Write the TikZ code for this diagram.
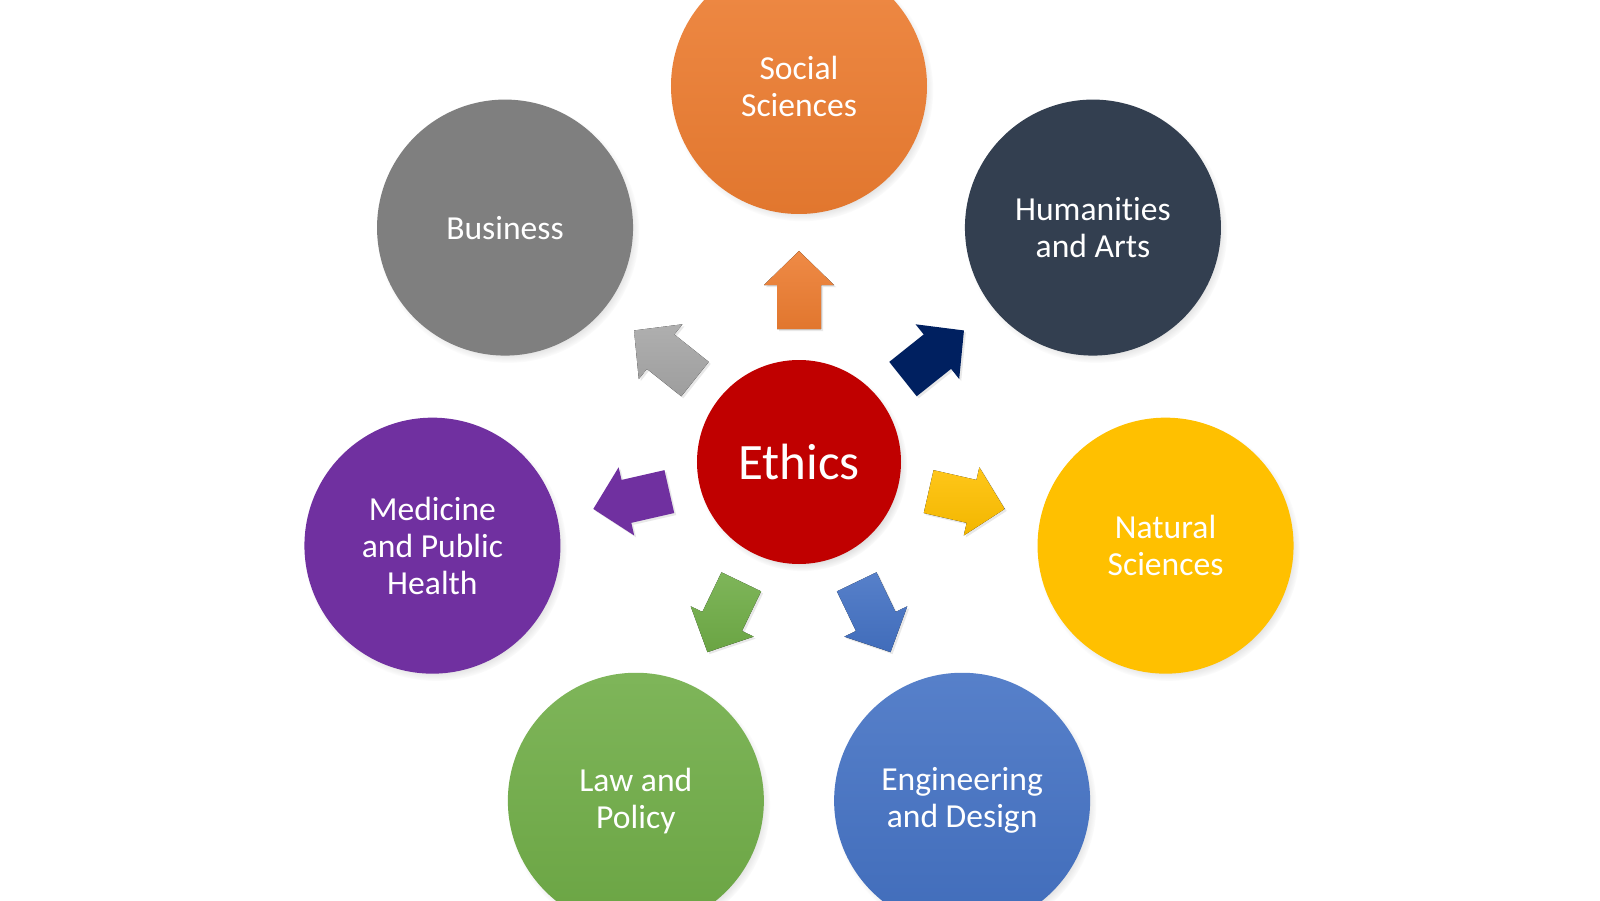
\documentclass[tikz,border=0pt]{standalone}
\usepackage{fontspec}
\setmainfont{Carlito}[Ligatures={NoCommon}]
\usetikzlibrary{shadows,fadings}
\definecolor{cOrange}{HTML}{ED7D31}
\definecolor{cGray}{HTML}{7F7F7F}
\definecolor{cSlate}{HTML}{333F50}
\definecolor{cGold}{HTML}{FFC000}
\definecolor{cBlue}{HTML}{4472C4}
\definecolor{cGreen}{HTML}{70AD47}
\definecolor{cPurple}{HTML}{7030A0}
\definecolor{cRed}{HTML}{C00000}
\definecolor{cNavy}{HTML}{002060}
\definecolor{cLtGray}{HTML}{A6A6A6}
\newcommand\blockarrow[2]{%
  \fill[arrowshape,#2,rotate=#1] (133,-22) -- (177,-22) -- (177,-35) -- (211,0)
     -- (177,35) -- (177,22) -- (133,22) -- cycle;}
\begin{document}
\begin{tikzpicture}[x=1pt,y=1pt,
  bubble/.style={circle, minimum size=256pt, inner sep=0pt, text=white,
    align=center, font=\fontsize{33.6}{37}\selectfont,
    circular drop shadow={shadow xshift=3pt, shadow yshift=-4pt, opacity=0.45, shadow scale=1.025}},
  arrowshape/.style={drop shadow={shadow xshift=2pt, shadow yshift=-2pt, opacity=0.18}},
  shadeit/.style={top color=#1!90!white, bottom color=#1!95!black}
]
\useasboundingbox (-799,-438) rectangle (801,462);
\fill[white] (-799,-438) rectangle (801,462);

% outer circles
\node[bubble, shadeit=cOrange] (soc) at (90:376) {Social\\Sciences};
\node[bubble, fill=cSlate] (hum) at (38.571:376) {Humanities\\and Arts};
\node[bubble, fill=cGold] (nat) at (-12.857:376) {Natural\\Sciences};
\node[bubble, shadeit=cBlue] (eng) at (-64.286:376) {Engineering\\and Design};
\node[bubble, shadeit=cGreen] (law) at (-115.714:376) {Law and\\Policy};
\node[bubble, fill=cPurple] (med) at (-167.143:376) {Medicine\\and Public\\Health};
\node[bubble, fill=cGray] (bus) at (141.429:376) {Business};

% center
\node[circle, minimum size=204pt, inner sep=0pt, fill=cRed, text=white,
  font=\fontsize{51}{56}\selectfont,
  circular drop shadow={shadow xshift=3pt, shadow yshift=-4pt, opacity=0.45, shadow scale=1.03}]
  (eth) at (0,0) {Ethics};

% block arrows
\blockarrow{90}{shadeit=cOrange}
\blockarrow{38.571}{fill=cNavy}
\blockarrow{-12.857}{shadeit=cGold}
\blockarrow{-64.286}{shadeit=cBlue}
\blockarrow{-115.714}{shadeit=cGreen}
\blockarrow{-167.143}{fill=cPurple}
\blockarrow{141.429}{shadeit=cLtGray}
\end{tikzpicture}
\end{document}
